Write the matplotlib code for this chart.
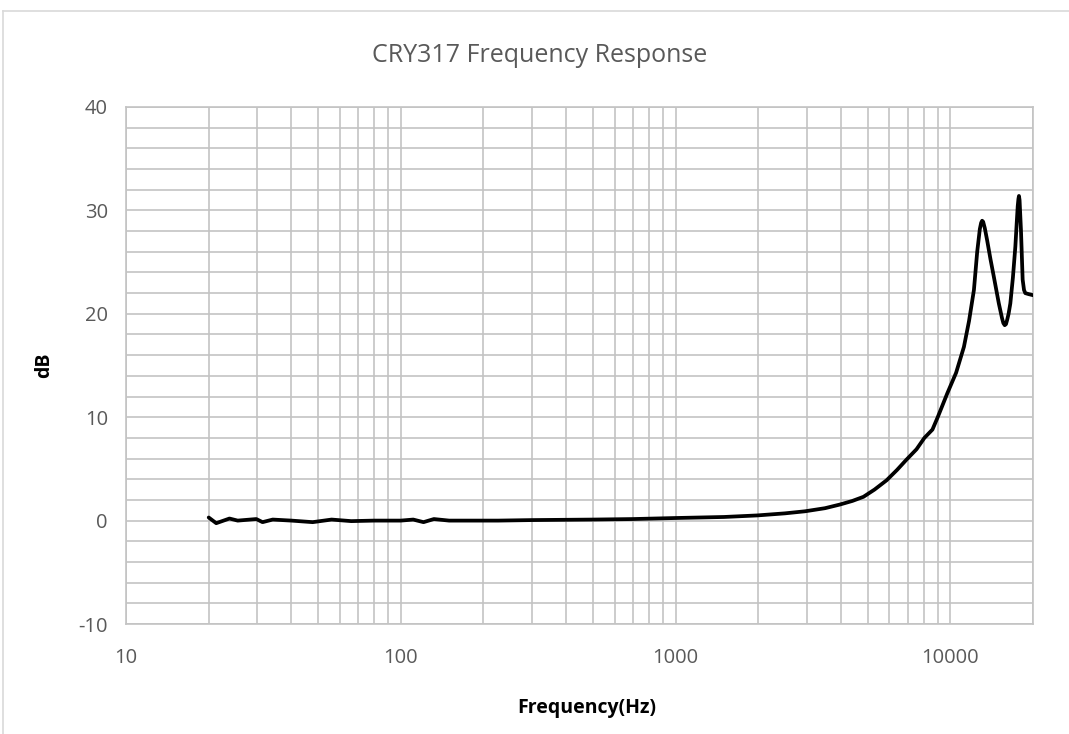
import numpy as np
import matplotlib.pyplot as plt
from matplotlib.ticker import FixedLocator, FuncFormatter, MultipleLocator
from matplotlib.lines import Line2D

# values
freq_hz = [20, 21.3, 23.8, 25.5, 29.8, 31.4, 34.2, 40, 47.8, 56, 66, 80, 100,
           111, 121, 132, 150, 226, 300, 500, 700, 1000, 1500, 1983, 2500,
           2960, 3500, 3960, 4400, 4830, 5300, 5865, 6400, 6930, 7535, 8050,
           8610, 9000, 9750, 10500, 11210, 11700, 12190, 12530, 12810, 12950,
           13060, 13170, 13350, 13620, 14000, 14400, 15020, 15420, 15600,
           15780, 15950, 16100, 16300, 16540, 16900, 17250, 17450, 17595,
           17700, 17780, 17870, 18080, 18340, 18550, 18750, 19300, 20000]
response_db = [0.3, -0.25, 0.2, 0.0, 0.15, -0.15, 0.1, 0.0, -0.15, 0.1, -0.05,
               0.0, 0.0, 0.1, -0.15, 0.15, 0.0, 0.0, 0.05, 0.1, 0.15, 0.25,
               0.35, 0.5, 0.7, 0.9, 1.2, 1.55, 1.9, 2.3, 3.0, 3.9, 4.9, 5.9,
               6.9, 8.0, 8.8, 10.0, 12.3, 14.3, 16.8, 19.3, 22.3, 26.0, 28.2,
               28.8, 29.0, 28.9, 28.3, 27.1, 25.3, 23.6, 21.0, 19.6, 19.1,
               18.9, 19.0, 19.4, 20.0, 21.0, 23.5, 26.5, 28.8, 30.4, 31.1,
               31.4, 31.0, 28.1, 23.3, 22.3, 22.0, 21.9, 21.8]

x_major = [10, 100, 1000, 10000]
title = 'CRY317 Frequency Response'

grid_col = '#c3c3c3'
text_col = '#595959'

plt.rcParams['font.family'] = ['Open Sans', 'DejaVu Sans']
plt.rcParams['axes.unicode_minus'] = False

fig = plt.figure(figsize=(10.69, 7.34), dpi=100)
ax = fig.add_axes([126 / 1069, 1 - 624 / 734, 907 / 1069, 517 / 734])

ax.plot(freq_hz, response_db, color='black', lw=2.7, solid_joinstyle='round',
        solid_capstyle='round', zorder=3)

ax.set_xscale('log')
ax.set_xlim(10, 20000)
ax.set_ylim(-10, 40)

ax.xaxis.set_major_locator(FixedLocator(x_major))
ax.xaxis.set_major_formatter(FuncFormatter(lambda v, p: '%d' % v))
minor = [m * d for d in x_major for m in range(2, 10) if m * d <= 20000]
ax.xaxis.set_minor_locator(FixedLocator(minor))
ax.xaxis.set_minor_formatter(FuncFormatter(lambda v, p: ''))
ax.yaxis.set_major_locator(MultipleLocator(10))
ax.yaxis.set_minor_locator(MultipleLocator(2))

ax.grid(which='both', color=grid_col, lw=1.2)
ax.set_axisbelow(True)
for s in ax.spines.values():
    s.set_color(grid_col)
    s.set_linewidth(1.2)

ax.tick_params(which='both', length=0, labelsize=14.5, labelcolor=text_col)
ax.tick_params(axis='x', pad=17)
ax.tick_params(axis='y', pad=13)

ax.set_xlabel('Frequency(Hz)', fontsize=14, fontweight='bold')
ax.xaxis.set_label_coords(0.508, -0.143)
ax.set_ylabel('dB', fontsize=14, fontweight='bold')
ax.yaxis.set_label_coords(-0.079, 0.5)

fig.text(540 / 1069, 1 - 55 / 734, title, fontsize=18, color=text_col,
         ha='center', va='center')

# outer chart frame
fig.add_artist(Line2D([3 / 1069, 3 / 1069], [0, 1 - 11 / 734], color='#d9d9d9', lw=1.2))
fig.add_artist(Line2D([3 / 1069, 1], [1 - 11 / 734, 1 - 11 / 734], color='#d9d9d9', lw=1.2))

fig.savefig('out.png', dpi=100)
